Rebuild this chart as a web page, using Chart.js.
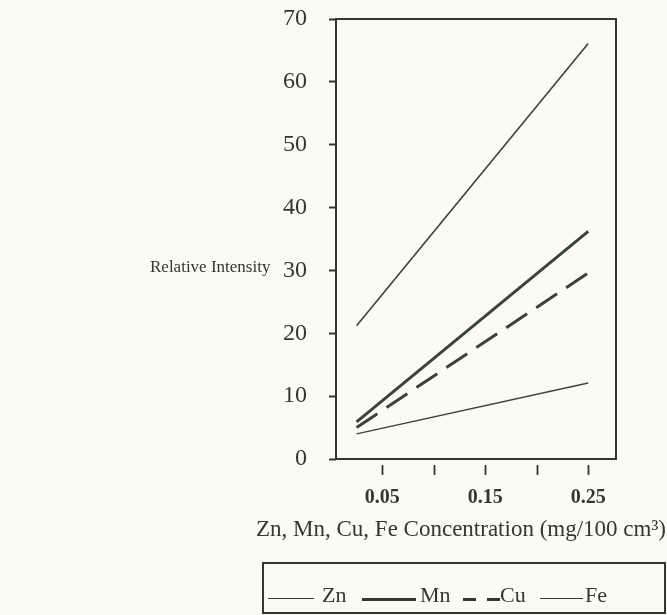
<!DOCTYPE html>
<html>
<head>
<meta charset="utf-8">
<script src="https://cdn.jsdelivr.net/npm/chart.js@4"></script>
<style>
  html, body { margin:0; padding:0; background:#fbfbf4; }
  #wrap { position:relative; width:667px; height:615px; overflow:hidden; }
  #chart { position:absolute; left:0; top:0; }
  #legend {
    position:absolute; left:262px; top:562px; width:400px; height:48px;
    border:2px solid #2f3a2f; box-sizing:content-box;
    font-family:"Liberation Serif", "DejaVu Serif", serif; font-size:22px; color:#2f3a2f;
  }
  .sample { position:absolute; top:34px; }
  .lbl { position:absolute; top:20px; line-height:22px; }
</style>
</head>
<body>
<div id="wrap">
  <canvas id="chart" width="667" height="615"></canvas>
  <div id="legend"></div>
</div>
<script>
// concentration (mg/100 cm3) at both ends of each line
const concentration = [0.025, 0.25];
const seriesNames = ['Zn', 'Mn', 'Cu', 'Fe'];
const zn = [21.2, 66.1];
const mn = [5.9, 36.2];
const cu = [5.0, 29.6];
const fe = [4.0, 12.1];
const yTicks = [0, 10, 20, 30, 40, 50, 60, 70];
const xTickValues = [0.05, 0.10, 0.15, 0.20, 0.25];
const xTickLabels = ['0.05', '', '0.15', '', '0.25'];

const ink = '#2f3a2f';
const lineInk = '#36443a';
const serif = '"Liberation Serif", "DejaVu Serif", serif';

const toPoints = vals => vals.map((v, i) => ({ x: concentration[i], y: v }));
const styles = [
  { w: 1.6, dash: [] },
  { w: 3, dash: [] },
  { w: 3, dash: [25, 11] },
  { w: 1.4, dash: [] },
];
const datasets = [zn, mn, cu, fe].map((vals, i) => ({
  label: seriesNames[i],
  data: toPoints(vals),
  borderColor: lineInk,
  borderWidth: styles[i].w,
  borderDash: styles[i].dash,
  pointRadius: 0,
  fill: false,
}));

// frame round the plot + tick marks below the x axis + titles
const extras = {
  id: 'extras',
  afterDraw(c){
    const ctx = c.ctx, a = c.chartArea, xs = c.scales.x;
    ctx.save();
    ctx.strokeStyle = ink;
    ctx.lineWidth = 2;
    ctx.strokeRect(a.left, a.top, a.right - a.left, a.bottom - a.top);
    ctx.lineWidth = 1.8;
    xs.ticks.forEach(t => {
      const px = Math.round(xs.getPixelForValue(t.value)) + 0.5;
      ctx.beginPath();
      ctx.moveTo(px, a.bottom + 6);
      ctx.lineTo(px, a.bottom + 16);
      ctx.stroke();
    });
    ctx.fillStyle = ink;
    ctx.font = '17px ' + serif;
    ctx.textBaseline = 'middle';
    ctx.fillText('Relative Intensity', 150, 268);
    ctx.font = '23px ' + serif;
    ctx.textAlign = 'center';
    ctx.fillText('Zn, Mn, Cu, Fe Concentration (mg/100 cm\u00B3)', 461, 530);
    ctx.restore();
  }
};

new Chart(document.getElementById('chart'), {
  type: 'line',
  data: { datasets },
  options: {
    responsive: false,
    animation: false,
    layout: { padding: { top: 19, right: 51, left: 0, bottom: 0 } },
    plugins: { legend: { display: false }, tooltip: { enabled: false } },
    scales: {
      x: {
        type: 'linear',
        min: 0.005, max: 0.277,
        afterBuildTicks: s => { s.ticks = xTickValues.map(v => ({ value: v })); },
        afterFit: s => { s.height = 156; s.paddingLeft = 0; s.paddingRight = 0; },
        grid: { display: false },
        border: { display: false },
        ticks: {
          padding: 19,
          autoSkip: false,
          maxRotation: 0,
          color: ink,
          font: { family: serif, size: 20, weight: 'bold' },
          callback: (v, i) => xTickLabels[i],
        },
      },
      y: {
        min: 0, max: 70,
        afterBuildTicks: s => { s.ticks = yTicks.map(v => ({ value: v })); },
        afterFit: s => { s.width = 336; s.paddingTop = 0; s.paddingBottom = 0; },
        grid: { drawOnChartArea: false, tickLength: 7, tickColor: ink, tickWidth: 2 },
        border: { display: false },
        ticks: {
          padding: 22,
          color: ink,
          font: { family: serif, size: 24 },
        },
      },
    },
  },
  plugins: [extras],
});

// legend box built from the datasets
const legend = document.getElementById('legend');
const layout = [
  { s: 4, w: 46, t: 58 },
  { s: 98, w: 54, t: 156 },
  { s: 199, w: 38, t: 236 },
  { s: 276, w: 43, t: 321 },
];
datasets.forEach((d, i) => {
  const L = layout[i];
  const segs = d.borderDash.length ? [[0, 13], [24, 13]] : [[0, L.w]];
  segs.forEach(([off, w]) => {
    const seg = document.createElement('span');
    seg.className = 'sample';
    seg.style.cssText = `left:${L.s + off}px;width:${w}px;border-top:${d.borderWidth}px solid ${ink};`;
    legend.appendChild(seg);
  });
  const t = document.createElement('span');
  t.className = 'lbl';
  t.style.left = L.t + 'px';
  t.textContent = d.label;
  legend.appendChild(t);
});
</script>
</body>
</html>
